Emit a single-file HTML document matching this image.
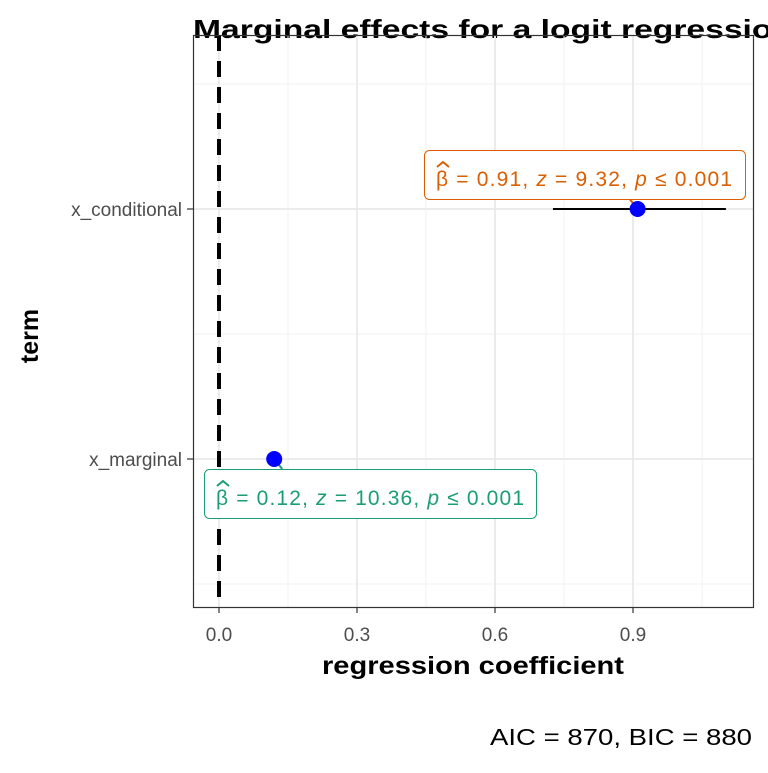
<!DOCTYPE html>
<html><head><meta charset="utf-8"><style>
body{margin:0;background:#fff}
svg text{font-family:"Liberation Sans",sans-serif}
</style></head><body>
<svg id="chart" width="768" height="768" xmlns="http://www.w3.org/2000/svg">
<rect width="768" height="768" fill="#fff"/>
<text x="193" y="38" font-size="26" font-weight="bold" fill="#000" textLength="600" lengthAdjust="spacingAndGlyphs">Marginal effects for a logit regression</text>
<g id="grid"></g>
<g id="marks"></g>
<rect x="193.5" y="35.5" width="560" height="572" fill="none" stroke="#333" stroke-width="1.2"/>
<g id="axes"></g>
<text x="473" y="674" font-size="25" font-weight="bold" text-anchor="middle" textLength="302" lengthAdjust="spacingAndGlyphs">regression coefficient</text>
<text transform="translate(38,336) rotate(-90)" font-size="25" font-weight="bold" text-anchor="middle">term</text>
<text x="752" y="745" font-size="23" text-anchor="end" textLength="262" lengthAdjust="spacingAndGlyphs">AIC = 870, BIC = 880</text>
</svg>
<script>
const terms = ["x_marginal","x_conditional"];
const estimates = [0.12, 0.91];
const ciLow = [0.11, 0.726];
const ciHigh = [0.13, 1.102];
const zvals = ["10.36","9.32"];
const xTicks = [0.0,0.3,0.6,0.9];
const xTickLabels = ["0.0","0.3","0.6","0.9"];
const colors = ["#1B9E77","#D95F02"];
const NS="http://www.w3.org/2000/svg";
const X=v=>219+v*460;
const Y=i=>459-i*250;
function mk(tag,attrs,parent,txt){const e=document.createElementNS(NS,tag);for(const k in attrs)e.setAttribute(k,attrs[k]);if(txt!==undefined)e.textContent=txt;parent.appendChild(e);return e;}
const grid=document.getElementById('grid'),marks=document.getElementById('marks'),axes=document.getElementById('axes');
[-0.15,0.15,0.45,0.75,1.05].forEach(v=>{if(X(v)>193&&X(v)<753)mk('line',{x1:X(v),x2:X(v),y1:35,y2:607,stroke:'#f2f2f2','stroke-width':1,},grid);});
[-0.5,0.5,1.5].forEach(i=>{const y=Y(i);if(y>35&&y<607)mk('line',{x1:193,x2:753,y1:y,y2:y,stroke:'#f2f2f2','stroke-width':1,},grid);});
xTicks.forEach((v,k)=>{
 mk('line',{x1:X(v),x2:X(v),y1:35,y2:607,stroke:'#ebebeb','stroke-width':2,},grid);
 mk('line',{x1:X(v),x2:X(v),y1:607,y2:613,stroke:'#333','stroke-width':1.2,},axes);
 mk('text',{x:X(v),y:641,'font-size':19,'text-anchor':'middle',fill:'#4d4d4d',},axes,xTickLabels[k]);
});
terms.forEach((t,i)=>{
 mk('line',{x1:193,x2:753,y1:Y(i),y2:Y(i),stroke:'#ebebeb','stroke-width':2,},grid);
 mk('line',{x1:187,x2:193,y1:Y(i),y2:Y(i),stroke:'#333','stroke-width':1.2,},axes);
 mk('text',{x:182,y:Y(i)+7,'font-size':19,'text-anchor':'end',fill:'#4d4d4d',},axes,t);
});
mk('line',{x1:X(0),x2:X(0),y1:35,y2:607,stroke:'#000','stroke-width':4,'stroke-dasharray':'16,10',},marks);
terms.forEach((t,i)=>{
 mk('line',{x1:X(ciLow[i]),x2:X(ciHigh[i]),y1:Y(i),y2:Y(i),stroke:'#000','stroke-width':2,},marks);
 const cx=X(estimates[i]),cy=Y(i);
 const lbl = i===0 ? {x:204,y:469,w:332,tw:308} : {x:424,y:150,w:321,tw:296};
 const by = i===0?lbl.y:lbl.y+49;
 mk('line',{x1:cx,y1:cy,x2:cx+(i===0?8:-8),y2:by,stroke:colors[i],'stroke-width':2,},marks);
 mk('circle',{cx:cx,cy:cy,r:8,fill:'#0000ff',},marks);
 mk('rect',{x:lbl.x+0.5,y:lbl.y+0.5,width:lbl.w,height:49,rx:5,fill:'#fff',stroke:colors[i],'stroke-width':1,},marks);
 const tx=mk('text',{x:lbl.x+12,y:lbl.y+36,'font-size':21,fill:colors[i],textLength:lbl.tw,lengthAdjust:'spacing',},marks);
 mk('tspan',{},tx,'β = '+estimates[i].toFixed(2)+',  ');
 mk('tspan',{'font-style':'italic'},tx,'z');
 mk('tspan',{},tx,' = '+zvals[i]+',  ');
 mk('tspan',{'font-style':'italic'},tx,'p');
 mk('tspan',{},tx,' ≤ 0.001');
 mk('path',{d:`M${lbl.x+13} ${lbl.y+17} l6 -5 l6 5`,fill:'none',stroke:colors[i],'stroke-width':2,},marks);
});
</script>
</body></html>
